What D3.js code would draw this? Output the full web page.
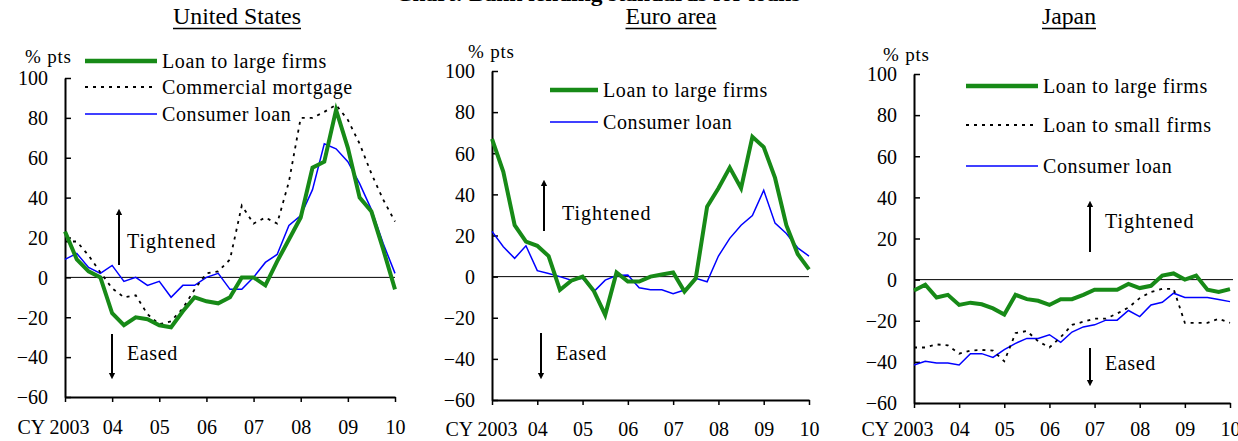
<!DOCTYPE html>
<html>
<head>
<meta charset="utf-8">
<script src="https://cdn.jsdelivr.net/npm/d3@7"></script>
<style>
  body { margin: 0; background: #fff; }
  text { font-family: "Liberation Serif", "Times New Roman", serif; fill: #000; }
</style>
</head>
<body>
<div class="main_area"></div>
<script>
// quarterly, CY2003 Q1 .. CY2010 Q1
const yearLabels = ["CY 2003", "04", "05", "06", "07", "08", "09", "10"];
const yTicks = [-60, -40, -20, 0, 20, 40, 60, 80, 100];

const usLarge = [23, 9, 3, 0, -18, -24, -20, -21, -24, -25, -17, -10, -12, -13, -10, 0, 0, -4, 8, 19, 30, 55, 58, 84, 65, 40, 33, 14, -6];
const usMortgage = [18, 18, 11, 2.5, -5.5, -10, -9, -18.5, -23.5, -22, -15.5, -6, 2, 3, 9, 36, 27, 30, 27, 48, 80, 80, 83, 86.5, 79, 67, 52, 39, 28];
const usConsumer = [9, 12, 5, 2, 6, -2, 0, -4, -2, -10, -4, -4, 0, 2, -6, -6, 0, 7.5, 11.5, 26, 31, 44, 67, 64.5, 58, 47, 34, 17, 2];

const euroLarge = [67, 51, 25, 17, 15, 10, -6.5, -2, 0, -7, -18.6, 2, -2.4, -2.4, 0, 1, 2, -7.3, -0.8, 34, 43, 53, 43, 68, 63, 48, 25, 11, 3.5];
const euroConsumer = [22, 14.5, 8.9, 15, 2.9, 1.5, 0, -1.7, -0.8, -7.3, -1.7, 0.5, 0.8, -5.4, -6.4, -6.4, -8.3, -6.5, -0.8, -2.5, 10, 18.6, 25, 29.7, 42, 26, 21, 14, 10];

const jpLarge = [-5.3, -2.5, -8.7, -7.4, -12.3, -11.2, -12, -14, -17, -7.4, -9.5, -10.3, -12.3, -9.5, -9.5, -7.4, -4.9, -4.9, -4.9, -2.1, -4.1, -3, 2, 3, 0, 2, -4.9, -6, -4.6];
const jpSmall = [-33, -33, -31.5, -32, -36, -34.5, -34.2, -34.5, -39.7, -26, -25, -30, -33, -28, -22, -20.5, -19, -19, -16.5, -13.6, -9, -6, -4.5, -4.5, -21, -21, -21, -19, -21];
const jpConsumer = [-41.5, -39.7, -40.5, -40.5, -41.5, -36, -36, -37.8, -34, -31, -28.6, -28.6, -26.8, -30.5, -25.5, -23, -22, -19.7, -19.7, -15, -18, -12.3, -11, -6.6, -8.7, -8.7, -8.7, -9.7, -10.7];

const styles = {
  large: {stroke: "#178a17", width: 4, dash: null},
  dotted: {stroke: "#000", width: 1.8, dash: "3,5"},
  consumer: {stroke: "#0000ff", width: 1.5, dash: null}
};

const svg = d3.select(".main_area")
  .append("svg")
  .attr("width", 1238)
  .attr("height", 441)
  .attr("font-family", "'Liberation Serif', 'Times New Roman', serif");

// main title, mostly cut off at the top of the picture
svg.append("text")
  .attr("x", 598)
  .attr("y", 1)
  .attr("text-anchor", "middle")
  .attr("font-weight", "bold")
  .attr("font-size", 20)
  .attr("fill", "#555")
  .attr("textLength", 405)
  .attr("lengthAdjust", "spacingAndGlyphs")
  .text("Chart: Bank lending standards for loans");

svg.append("defs").append("marker")
  .attr("id", "arrow")
  .attr("viewBox", "0 0 10 10")
  .attr("refX", 5).attr("refY", 5)
  .attr("markerWidth", 3.2).attr("markerHeight", 4)
  .attr("orient", "auto")
  .append("path")
  .attr("d", "M0,0 L10,5 L0,10 z")
  .attr("fill", "#000");

var usCfg = {
  title: "United States", titleX: 237, titleW: 128,
  left: 65, right: 395, top: 78, bottom: 397, zeroEnd: 395,
  cyShift: 24, labelY: 434,
  legendX1: 85, legendX2: 157, legendY: [61, 87, 114],
  up: {x: 119, y1: 265, y2: 212}, down: {x: 112, y1: 334, y2: 376},
  tightX: 127, tightY: 248, easedX: 127, easedY: 360,
  pctX: 25, pctY: 63
};
var euroCfg = {
  title: "Euro area", titleX: 671, titleW: 91,
  left: 492, right: 809, top: 71, bottom: 400, zeroEnd: 809,
  cyShift: 25, labelY: 436,
  legendX1: 550, legendX2: 598, legendY: [90, 122],
  up: {x: 544, y1: 231, y2: 183}, down: {x: 541, y1: 333, y2: 376},
  tightX: 562, tightY: 220, easedX: 556, easedY: 360,
  pctX: 468, pctY: 58
};
var jpCfg = {
  title: "Japan", titleX: 1069, titleW: 54,
  left: 914, right: 1230, top: 74, bottom: 403, zeroEnd: 1233,
  cyShift: 19, labelY: 436,
  legendX1: 966, legendX2: 1038, legendY: [86, 125, 166],
  up: {x: 1090, y1: 252, y2: 204}, down: {x: 1090, y1: 348, y2: 383},
  tightX: 1105, tightY: 228, easedX: 1105, easedY: 370,
  pctX: 883, pctY: 61
};

drawPanel(usCfg, [
  {name: "Loan to large firms", values: usLarge, style: styles.large},
  {name: "Commercial mortgage", values: usMortgage, style: styles.dotted},
  {name: "Consumer loan", values: usConsumer, style: styles.consumer}
]);
drawPanel(euroCfg, [
  {name: "Loan to large firms", values: euroLarge, style: styles.large},
  {name: "Consumer loan", values: euroConsumer, style: styles.consumer}
]);
drawPanel(jpCfg, [
  {name: "Loan to large firms", values: jpLarge, style: styles.large},
  {name: "Loan to small firms", values: jpSmall, style: styles.dotted},
  {name: "Consumer loan", values: jpConsumer, style: styles.consumer}
]);

function drawPanel(cfg, series) {
  var n = series[0].values.length;
  var x = d3.scaleLinear().domain([0, n - 1]).range([cfg.left, cfg.right]);
  var y = d3.scaleLinear().domain([-60, 100]).range([cfg.bottom, cfg.top]);

  var g = svg.append("g");

  // title, underlined
  g.append("text")
    .attr("x", cfg.titleX).attr("y", 24)
    .attr("text-anchor", "middle")
    .attr("font-size", 23)
    .attr("textLength", cfg.titleW)
    .attr("lengthAdjust", "spacingAndGlyphs")
    .text(cfg.title);
  g.append("line")
    .attr("x1", cfg.titleX - cfg.titleW / 2).attr("x2", cfg.titleX + cfg.titleW / 2)
    .attr("y1", 28.5).attr("y2", 28.5)
    .attr("stroke", "#000").attr("stroke-width", 1.6);

  g.append("text")
    .attr("x", cfg.pctX).attr("y", cfg.pctY)
    .attr("font-size", 19)
    .attr("letter-spacing", 0.8)
    .text("% pts");

  // zero line
  g.append("line")
    .attr("x1", cfg.left).attr("x2", cfg.zeroEnd)
    .attr("y1", y(0)).attr("y2", y(0))
    .attr("stroke", "#000").attr("stroke-width", 1);

  var yAxis = d3.axisLeft(y)
    .tickValues(yTicks)
    .tickSizeInner(-6)
    .tickSizeOuter(0)
    .tickPadding(17);
  var yg = g.append("g")
    .attr("transform", "translate(" + cfg.left + ",0)")
    .call(yAxis);
  yg.attr("font-family", null).attr("font-size", null);
  yg.selectAll("text").attr("font-size", 20).attr("dy", "0.34em");
  yg.selectAll("line").attr("stroke-width", 1.5);
  yg.select(".domain").attr("stroke-width", 2);

  var xAxis = d3.axisBottom(x)
    .tickValues(d3.range(0, n, 4))
    .tickFormat((d, i) => yearLabels[i])
    .tickSizeInner(5)
    .tickSizeOuter(0);
  var xg = g.append("g")
    .attr("transform", "translate(0," + cfg.bottom + ")")
    .call(xAxis);
  xg.attr("font-family", null).attr("font-size", null);
  xg.selectAll("text")
    .attr("font-size", 20)
    .attr("dy", null)
    .attr("y", cfg.labelY - cfg.bottom);
  xg.selectAll("text").filter((d, i) => i === 0)
    .attr("text-anchor", "end")
    .attr("x", cfg.cyShift);
  xg.selectAll("line").attr("stroke-width", 1.5);
  xg.select(".domain").attr("stroke-width", 2);

  // series, drawn back to front
  var line = d3.line()
    .x((d, i) => x(i))
    .y(d => y(d));
  series.slice().reverse().forEach(function(s) {
    g.append("path")
      .datum(s.values)
      .attr("fill", "none")
      .attr("stroke", s.style.stroke)
      .attr("stroke-width", s.style.width)
      .attr("stroke-dasharray", s.style.dash)
      .attr("stroke-linejoin", "miter")
      .attr("d", line);
  });

  // legend
  series.forEach(function(s, i) {
    var ly = cfg.legendY[i];
    g.append("line")
      .attr("x1", cfg.legendX1).attr("x2", cfg.legendX2)
      .attr("y1", ly).attr("y2", ly)
      .attr("stroke", s.style.stroke)
      .attr("stroke-width", s.style.width === 4 ? 4.5 : s.style.width)
      .attr("stroke-dasharray", s.style.dash);
    g.append("text")
      .attr("x", cfg.legendX2 + 5).attr("y", ly + 6.5)
      .attr("font-size", 20)
      .attr("letter-spacing", 0.6)
      .text(s.name);
  });

  // tightened / eased arrows
  [cfg.up, cfg.down].forEach(function(a) {
    g.append("line")
      .attr("x1", a.x).attr("x2", a.x)
      .attr("y1", a.y1).attr("y2", a.y2)
      .attr("stroke", "#000").attr("stroke-width", 2)
      .attr("marker-end", "url(#arrow)");
  });
  g.append("text")
    .attr("x", cfg.tightX).attr("y", cfg.tightY)
    .attr("font-size", 20).attr("letter-spacing", 1)
    .text("Tightened");
  g.append("text")
    .attr("x", cfg.easedX).attr("y", cfg.easedY)
    .attr("font-size", 20).attr("letter-spacing", 0.6)
    .text("Eased");
}
</script>
</body>
</html>
